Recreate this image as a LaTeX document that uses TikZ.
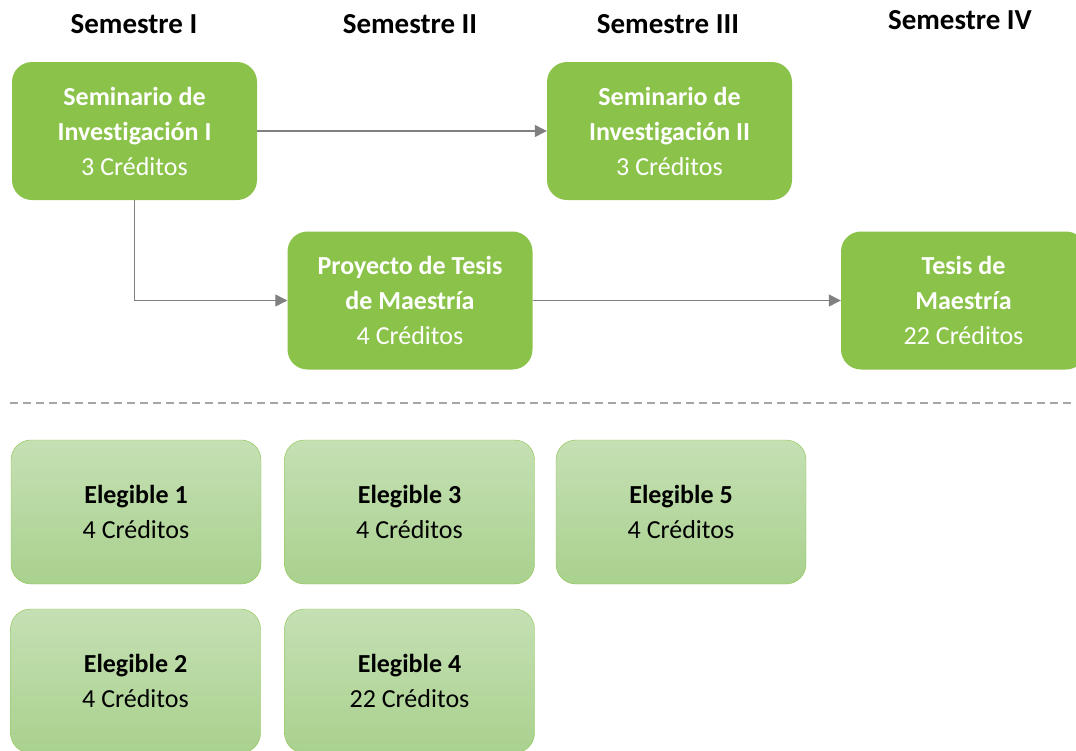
\documentclass[tikz,border=0pt]{standalone}
\usepackage{fontspec}
\setmainfont{Carlito}[Ligatures=NoCommon]
\usetikzlibrary{arrows.meta}
\definecolor{verde}{HTML}{8BC34A}
\definecolor{verdeclaro}{HTML}{C5E0B4}
\definecolor{verdemedio}{HTML}{A9D18E}
\definecolor{gris}{HTML}{808080}
\begin{document}
\begin{tikzpicture}[x=1pt,y=-1pt,
    curso/.style={rectangle,rounded corners=20pt,fill=verde,text=white,align=center,
        minimum width=245pt,minimum height=138pt,font=\fontsize{26}{35}\selectfont},
    elegible/.style={rectangle,rounded corners=20pt,draw=verde,top color=verdeclaro,
        bottom color=verdemedio,align=center,minimum width=250pt,minimum height=144pt,
        font=\fontsize{26}{35}\selectfont},
    flecha/.style={gris,line width=1.2pt,-{Triangle[length=12pt,width=12pt]}}]
        \useasboundingbox (0,0) rectangle (1076,750);
        % encabezados
        \node (s1) at (134,24) {\fontsize{29}{32}\selectfont\bfseries Semestre I};
        \node (s2) at (410,24) {\fontsize{29}{32}\selectfont\bfseries Semestre II};
        \node (s3) at (668,24) {\fontsize{29}{32}\selectfont\bfseries Semestre III};
        \node (s4) at (960,20) {\fontsize{29}{32}\selectfont\bfseries Semestre IV};
        % cursos obligatorios
        \node[curso] (sem1) at (134.5,131) {\textbf{Seminario de}\\\textbf{Investigación I}\\3 Créditos};
        \node[curso] (sem2) at (669.5,131) {\textbf{Seminario de}\\\textbf{Investigación II}\\3 Créditos};
        \node[curso] (proy) at (410,300.5) {\textbf{Proyecto de Tesis}\\\textbf{de Maestría}\\4 Créditos};
        \node[curso] (tesis) at (963.5,300.5) {\textbf{Tesis de}\\\textbf{Maestría}\\22 Créditos};
        \draw[flecha] (sem1) -- (sem2);
        \draw[flecha] (sem1.south) |- (proy.west);
        \draw[flecha] (proy) -- (tesis);
        \draw[gris!70,line width=1.2pt,dash pattern=on 8pt off 5pt] (10,403) -- (1076,403);
        % elegibles
        \foreach \n/\x/\y/\c in {1/136/512/4,3/409.5/512/4,5/681/512/4,2/135.5/681/4,4/409.5/681/22}
        {
            \node[elegible] (e\n) at (\x,\y) {\textbf{Elegible \n}\\\c{} Créditos};
        }
\end{tikzpicture}
\end{document}
